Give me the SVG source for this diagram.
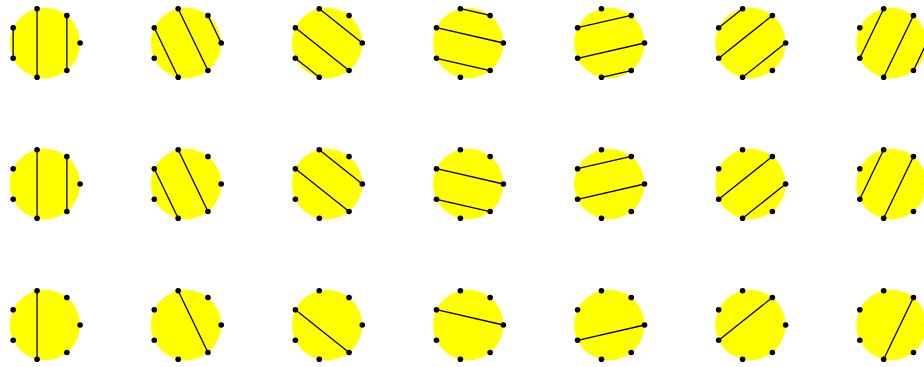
<svg xmlns="http://www.w3.org/2000/svg" xmlns:xlink="http://www.w3.org/1999/xlink" width="924" height="367" viewBox="0 0 924 367">
<style>
.disk{fill:#ffff00;stroke:none}
.pt{fill:#000}
.ch{stroke:#000;stroke-width:1.3;fill:none}
</style>
<defs>
<g id="base">
<circle class="disk" cx="0" cy="0" r="35.2"/>
<circle class="pt" cx="35.2" cy="0" r="2.8"/>
<circle class="pt" cx="21.95" cy="-27.52" r="2.8"/>
<circle class="pt" cx="-7.83" cy="-34.32" r="2.8"/>
<circle class="pt" cx="-31.71" cy="-15.27" r="2.8"/>
<circle class="pt" cx="-31.71" cy="15.27" r="2.8"/>
<circle class="pt" cx="-7.83" cy="34.32" r="2.8"/>
<circle class="pt" cx="21.95" cy="27.52" r="2.8"/>
</g>
<!-- chords: d1, d2, d3 per column -->
<line id="c0d1" class="ch" x1="-31.71" y1="-15.27" x2="-31.71" y2="15.27"/>
<line id="c0d2" class="ch" x1="21.95" y1="-27.52" x2="21.95" y2="27.52"/>
<line id="c0d3" class="ch" x1="-7.83" y1="-34.32" x2="-7.83" y2="34.32"/>
<line id="c1d1" class="ch" x1="35.2" y1="0" x2="21.95" y2="-27.52"/>
<line id="c1d2" class="ch" x1="-31.71" y1="-15.27" x2="-7.83" y2="34.32"/>
<line id="c1d3" class="ch" x1="-7.83" y1="-34.32" x2="21.95" y2="27.52"/>
<line id="c2d1" class="ch" x1="-31.71" y1="15.27" x2="-7.83" y2="34.32"/>
<line id="c2d2" class="ch" x1="35.2" y1="0" x2="-7.83" y2="-34.32"/>
<line id="c2d3" class="ch" x1="-31.71" y1="-15.27" x2="21.95" y2="27.52"/>
<line id="c3d1" class="ch" x1="21.95" y1="-27.52" x2="-7.83" y2="-34.32"/>
<line id="c3d2" class="ch" x1="-31.71" y1="15.27" x2="21.95" y2="27.52"/>
<line id="c3d3" class="ch" x1="35.2" y1="0" x2="-31.71" y2="-15.27"/>
<line id="c4d1" class="ch" x1="-7.83" y1="34.32" x2="21.95" y2="27.52"/>
<line id="c4d2" class="ch" x1="21.95" y1="-27.52" x2="-31.71" y2="-15.27"/>
<line id="c4d3" class="ch" x1="35.2" y1="0" x2="-31.71" y2="15.27"/>
<line id="c5d1" class="ch" x1="-7.83" y1="-34.32" x2="-31.71" y2="-15.27"/>
<line id="c5d2" class="ch" x1="35.2" y1="0" x2="-7.83" y2="34.32"/>
<line id="c5d3" class="ch" x1="21.95" y1="-27.52" x2="-31.71" y2="15.27"/>
<line id="c6d1" class="ch" x1="21.95" y1="27.52" x2="35.2" y2="0"/>
<line id="c6d2" class="ch" x1="-7.83" y1="-34.32" x2="-31.71" y2="15.27"/>
<line id="c6d3" class="ch" x1="21.95" y1="-27.52" x2="-7.83" y2="34.32"/>
</defs>

<!-- row 1 -->
<g id="r1c1" transform="translate(44.9,43)"><use href="#base"/><use href="#c0d1"/><use href="#c0d2"/><use href="#c0d3"/></g>
<g id="r1c2" transform="translate(186,43)"><use href="#base"/><use href="#c1d1"/><use href="#c1d2"/><use href="#c1d3"/></g>
<g id="r1c3" transform="translate(327.1,43)"><use href="#base"/><use href="#c2d1"/><use href="#c2d2"/><use href="#c2d3"/></g>
<g id="r1c4" transform="translate(468.2,43)"><use href="#base"/><use href="#c3d1"/><use href="#c3d2"/><use href="#c3d3"/></g>
<g id="r1c5" transform="translate(609.3,43)"><use href="#base"/><use href="#c4d1"/><use href="#c4d2"/><use href="#c4d3"/></g>
<g id="r1c6" transform="translate(750.4,43)"><use href="#base"/><use href="#c5d1"/><use href="#c5d2"/><use href="#c5d3"/></g>
<g id="r1c7" transform="translate(891.5,43)"><use href="#base"/><use href="#c6d1"/><use href="#c6d2"/><use href="#c6d3"/></g>

<!-- row 2 -->
<g id="r2c1" transform="translate(44.9,184)"><use href="#base"/><use href="#c0d2"/><use href="#c0d3"/></g>
<g id="r2c2" transform="translate(186,184)"><use href="#base"/><use href="#c1d2"/><use href="#c1d3"/></g>
<g id="r2c3" transform="translate(327.1,184)"><use href="#base"/><use href="#c2d2"/><use href="#c2d3"/></g>
<g id="r2c4" transform="translate(468.2,184)"><use href="#base"/><use href="#c3d2"/><use href="#c3d3"/></g>
<g id="r2c5" transform="translate(609.3,184)"><use href="#base"/><use href="#c4d2"/><use href="#c4d3"/></g>
<g id="r2c6" transform="translate(750.4,184)"><use href="#base"/><use href="#c5d2"/><use href="#c5d3"/></g>
<g id="r2c7" transform="translate(891.5,184)"><use href="#base"/><use href="#c6d2"/><use href="#c6d3"/></g>

<!-- row 3 -->
<g id="r3c1" transform="translate(44.9,325)"><use href="#base"/><use href="#c0d3"/></g>
<g id="r3c2" transform="translate(186,325)"><use href="#base"/><use href="#c1d3"/></g>
<g id="r3c3" transform="translate(327.1,325)"><use href="#base"/><use href="#c2d3"/></g>
<g id="r3c4" transform="translate(468.2,325)"><use href="#base"/><use href="#c3d3"/></g>
<g id="r3c5" transform="translate(609.3,325)"><use href="#base"/><use href="#c4d3"/></g>
<g id="r3c6" transform="translate(750.4,325)"><use href="#base"/><use href="#c5d3"/></g>
<g id="r3c7" transform="translate(891.5,325)"><use href="#base"/><use href="#c6d3"/></g>
</svg>
